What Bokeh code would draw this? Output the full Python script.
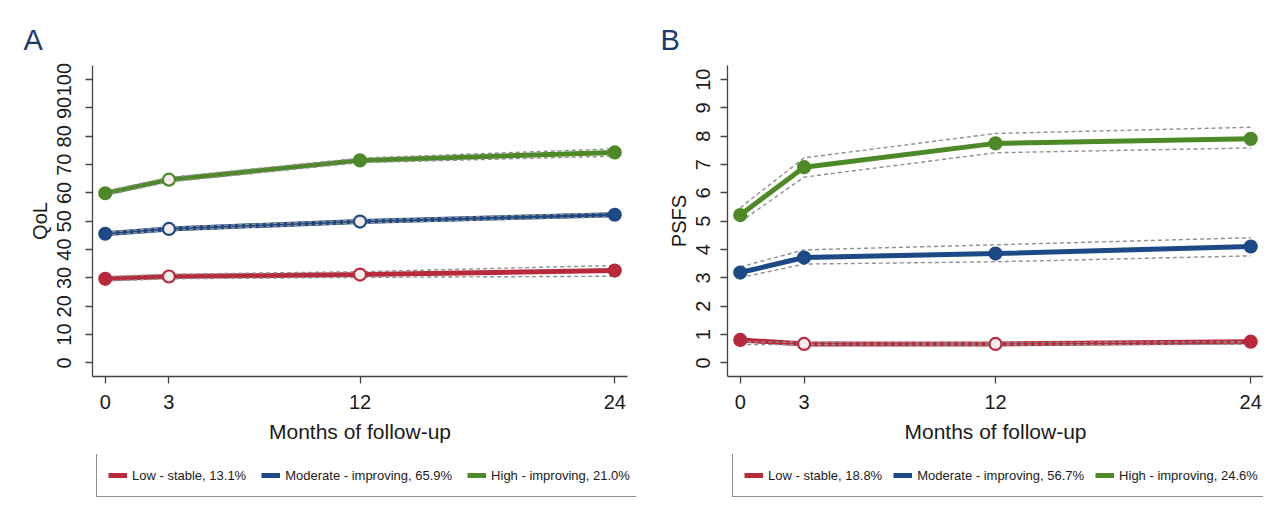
from bokeh.plotting import figure
from bokeh.models import Legend, LegendItem, FixedTicker, Range1d, ColumnDataSource
from bokeh.layouts import row, column
from bokeh.embed import file_html
from bokeh.resources import INLINE

# ---------------- data ----------------
months = [0, 3, 12, 24]
x_ticks = [0, 3, 12, 24]

# Panel A: QoL
qol_low = [29.7, 30.5, 31.2, 32.6]
qol_low_lo = [28.9, 29.7, 30.2, 30.6]
qol_low_hi = [30.5, 31.3, 32.2, 34.4]
qol_mod = [45.6, 47.3, 49.9, 52.3]
qol_mod_lo = [45.1, 46.8, 49.4, 51.6]
qol_mod_hi = [46.1, 47.8, 50.4, 53.0]
qol_high = [59.9, 64.7, 71.5, 74.3]
qol_high_lo = [59.2, 63.9, 70.7, 73.0]
qol_high_hi = [60.6, 65.5, 72.3, 75.6]
qol_ticks = [0, 10, 20, 30, 40, 50, 60, 70, 80, 90, 100]
qol_labels = ["Low - stable, 13.1%", "Moderate - improving, 65.9%", "High - improving, 21.0%"]

# Panel B: PSFS
psfs_low = [0.81, 0.67, 0.67, 0.75]
psfs_low_lo = [0.65, 0.64, 0.63, 0.66]
psfs_low_hi = [0.75, 0.72, 0.71, 0.75]
psfs_mod = [3.19, 3.72, 3.86, 4.11]
psfs_mod_lo = [3.01, 3.49, 3.57, 3.78]
psfs_mod_hi = [3.39, 3.99, 4.17, 4.42]
psfs_high = [5.22, 6.91, 7.75, 7.91]
psfs_high_lo = [4.98, 6.56, 7.42, 7.59]
psfs_high_hi = [5.48, 7.24, 8.10, 8.32]
psfs_ticks = [0, 1, 2, 3, 4, 5, 6, 7, 8, 9, 10]
psfs_labels = ["Low - stable, 18.8%", "Moderate - improving, 56.7%", "High - improving, 24.6%"]

# ---------------- style ----------------
COLORS = ["#B82A3B", "#1D4A86", "#4D8A27"]
FONT = "Liberation Sans"
LINE_W = 5
# which points are drawn as hollow markers (style only)
HOLLOW_A = [[1, 2], [1, 2], [1]]
HOLLOW_B = [[1, 2], [], []]


def make_panel(letter, ylabel, series, yticks, yrange, hollow,
               width, min_left, min_right, ylab_standoff, title_offset):
    p = figure(width=width, height=454, output_backend="svg", toolbar_location=None,
               x_range=Range1d(-0.6, 24.6), y_range=Range1d(*yrange),
               min_border_left=min_left, min_border_right=min_right,
               min_border_top=65, min_border_bottom=78)
    p.outline_line_color = None
    p.xgrid.visible = False
    p.ygrid.visible = False
    p.background_fill_color = "white"
    p.border_fill_color = "white"

    p.title.text = letter
    p.title.align = "left"
    p.title.offset = title_offset
    p.title.text_font = FONT
    p.title.text_font_size = "29px"
    p.title.text_font_style = "normal"
    p.title.text_color = "#1d3a6e"
    p.title.standoff = 20

    for i, (mean, lo, hi) in enumerate(series):
        col = COLORS[i]
        p.line(months, mean, line_color=col, line_width=LINE_W)
        p.line(months, lo, line_color="#8f8f8f", line_width=1.4, line_dash="4 3")
        p.line(months, hi, line_color="#8f8f8f", line_width=1.4, line_dash="4 3")
        fills = ["#f4ecec" if k in hollow[i] else col for k in range(len(months))]
        src = ColumnDataSource(dict(x=months, y=mean, f=fills))
        p.scatter("x", "y", source=src, size=12, marker="circle", fill_color="f",
                  line_color=col, line_width=2.2)

    for ax in (p.xaxis, p.yaxis):
        ax.axis_line_color = "#444444"
        ax.axis_line_width = 1.3
        ax.major_tick_line_color = "#444444"
        ax.major_tick_line_width = 1.3
        ax.major_tick_out = 7
        ax.major_tick_in = 0
        ax.minor_tick_out = 0
        ax.minor_tick_in = 0
        ax.major_label_text_font = FONT
        ax.major_label_text_font_size = "20px"
        ax.major_label_text_color = "#1a1a1a"
        ax.axis_label_text_font = FONT
        ax.axis_label_text_font_style = "normal"
        ax.axis_label_text_color = "#1a1a1a"

    p.xaxis.ticker = FixedTicker(ticks=x_ticks)
    p.xaxis.axis_label = "Months of follow-up"
    p.xaxis.axis_label_text_font_size = "21px"
    p.xaxis.major_label_standoff = 11
    p.xaxis.axis_label_standoff = 8

    p.yaxis.ticker = FixedTicker(ticks=yticks)
    p.yaxis.major_label_orientation = "vertical"
    p.yaxis.axis_label = ylabel
    p.yaxis.axis_label_text_font_size = "20px"
    p.yaxis.major_label_standoff = ylab_standoff
    p.yaxis.axis_label_standoff = 4
    return p


def make_legend(labels, width, box_x, spacing):
    lf = figure(width=width, height=60, output_backend="svg", toolbar_location=None,
                x_range=Range1d(0, 1), y_range=Range1d(0, 1),
                min_border_left=0, min_border_right=0, min_border_top=0, min_border_bottom=0)
    lf.axis.visible = False
    lf.xgrid.visible = False
    lf.ygrid.visible = False
    lf.outline_line_color = None
    lf.background_fill_color = "white"
    lf.border_fill_color = "white"
    items = []
    for i, lab in enumerate(labels):
        # placeholder renderer (no visible data) that only carries the legend style
        r = lf.line([float("nan")], [float("nan")], line_color=COLORS[i], line_width=LINE_W)
        items.append(LegendItem(label=lab, renderers=[r]))
    legend = Legend(items=items, orientation="horizontal", location=(box_x, 17),
                    label_text_font=FONT, label_text_font_size="13px",
                    label_text_color="#1a1a1a",
                    glyph_width=19, glyph_height=20, label_height=20, label_standoff=5,
                    spacing=spacing, padding=11, margin=0,
                    border_line_color="#222222", border_line_width=1,
                    background_fill_color="white", background_fill_alpha=1.0)
    lf.add_layout(legend)
    return lf


pA = make_panel("A", "QoL",
                [(qol_low, qol_low_lo, qol_low_hi),
                 (qol_mod, qol_mod_lo, qol_mod_hi),
                 (qol_high, qol_high_lo, qol_high_hi)],
                qol_ticks, (-4.8, 105.0), HOLLOW_A,
                width=636, min_left=92, min_right=9, ylab_standoff=14, title_offset=-69)

pB = make_panel("B", "PSFS",
                [(psfs_low, psfs_low_lo, psfs_low_hi),
                 (psfs_mod, psfs_mod_lo, psfs_mod_hi),
                 (psfs_high, psfs_high_lo, psfs_high_hi)],
                psfs_ticks, (-0.48, 10.5), HOLLOW_B,
                width=627, min_left=91, min_right=0, ylab_standoff=10, title_offset=-67)

lA = make_legend(qol_labels, 636, 96, 15)
lB = make_legend(psfs_labels, 627, 96, 11)

layout = column(row(pA, pB), row(lA, lB))
open("out.html", "w").write(file_html(layout, INLINE))
